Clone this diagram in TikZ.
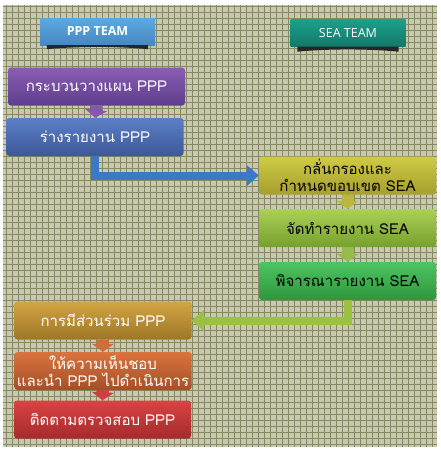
\documentclass[tikz,border=0pt]{standalone}
\usepackage{fontspec}
\newfontfamily\thaifont[Script=Thai]{Loma}
\newfontfamily\teamfont{Open Sans}
\usetikzlibrary{arrows.meta}

\definecolor{gridbg}{HTML}{C8C8B2}
\definecolor{gridln}{HTML}{858A60}
\definecolor{pppT}{HTML}{5CA9E0}   \definecolor{pppB}{HTML}{4787C2}
\definecolor{seaT}{HTML}{1BA08C}   \definecolor{seaB}{HTML}{137868}
\definecolor{planT}{HTML}{8A5DB3}  \definecolor{planB}{HTML}{5E3D8C}
\definecolor{draftT}{HTML}{5B7FC6} \definecolor{draftB}{HTML}{3D5897}
\definecolor{scopeT}{HTML}{CFCB45} \definecolor{scopeB}{HTML}{A69E2E}
\definecolor{reprtT}{HTML}{AAD055} \definecolor{reprtB}{HTML}{76A02E}
\definecolor{reviewT}{HTML}{4DC462}\definecolor{reviewB}{HTML}{2F963B}
\definecolor{partT}{HTML}{D2A443}  \definecolor{partB}{HTML}{9E7627}
\definecolor{apprvT}{HTML}{D9743E} \definecolor{apprvB}{HTML}{A54F27}
\definecolor{monitT}{HTML}{D94343} \definecolor{monitB}{HTML}{A52B2C}
\definecolor{arrowblue}{HTML}{3C78C8}
\definecolor{arrowgreen}{HTML}{9CC040}

\tikzset{
  flowbox/.style 2 args={rectangle, rounded corners=3pt, minimum width=177pt,
    minimum height=38pt, inner sep=1pt, align=center, top color=#1, bottom color=#2,
    font=\thaifont\fontsize{15}{17}\selectfont, text=white},
  teambox/.style 2 args={rectangle, minimum width=115pt, minimum height=27pt,
    top color=#1, bottom color=#2, text=white, font=\teamfont\fontsize{12.5}{14}\selectfont},
  linkarrow/.style={line width=12pt, -{Triangle[width=22pt,length=8pt]}},
  bigarrow/.style={line width=8pt, -{Triangle[width=20pt,length=12pt]}}
}

\begin{document}
\begin{tikzpicture}[x=1pt,y=1pt]
    \useasboundingbox (0,0) rectangle (440,-450);
    \fill[white] (0,0) rectangle (440,-450);
    \fill[gridbg] (3,-5) rectangle (437,-447);
    \draw[gridln, line width=0.6pt, step=6pt] (3,-5) grid (437,-447);

    % team labels
    \node[teambox={pppT}{pppB}] (tmppp) at (97.5,-31.5) {\bfseries PPP TEAM};
    \node[teambox={seaT}{seaB}] (tmsea) at (348,-33) {SEA TEAM};
    \fill[black!85] ([xshift=7pt]tmppp.south west) -- ++(0,-4) .. controls +(30,3) and +(-30,3) .. ([xshift=-7pt,yshift=-4pt]tmppp.south east) -- ([xshift=-7pt]tmppp.south east) -- cycle;
    \fill[black!85] ([xshift=7pt]tmsea.south west) -- ++(0,-5) .. controls +(30,3) and +(-30,3) .. ([xshift=-7pt,yshift=-5pt]tmsea.south east) -- ([xshift=-7pt]tmsea.south east) -- cycle;

    % PPP side
    \node[flowbox={planT}{planB}] (plan) at (96.5,-86.5) {กระบวนวางแผน PPP};
    \node[flowbox={draftT}{draftB}] (draft) at (95,-137) {ร่างรายงาน PPP};

    % SEA side
    \node[flowbox={scopeT}{scopeB}, text=black] (scope) at (347.5,-175.5) {กลั่นกรองและ\\กำหนดขอบเขต SEA};
    \node[flowbox={reprtT}{reprtB}, text=black] (report) at (347.5,-228) {จัดทำรายงาน SEA};
    \node[flowbox={reviewT}{reviewB}, text=black] (review) at (347.5,-281) {พิจารณารายงาน SEA};

    % back to PPP
    \node[flowbox={partT}{partB}] (part) at (103,-320.5) {การมีส่วนร่วม PPP};
    \node[flowbox={apprvT}{apprvB}] (apprv) at (103,-371) {ให้ความเห็นชอบ\\และนำ PPP ไปดำเนินการ};
    \node[flowbox={monitT}{monitB}] (monit) at (102.5,-419.5) {ติดตามตรวจสอบ PPP};

    % small arrows
    \draw[linkarrow, planT!85!planB] (plan.south) -- (draft.north);
    \draw[linkarrow, scopeT!90!black] (scope.south) -- (report.north);
    \draw[linkarrow, reprtT!90!black] (report.south) -- (review.north);
    \draw[linkarrow, apprvT!95!black] (part.south) -- (apprv.north);
    \draw[linkarrow, monitT!95!black] (apprv.south) -- (monit.north);

    % big arrows
    \draw[bigarrow, arrowblue] (draft.south) |- (scope.west);
    \draw[bigarrow, arrowgreen] (review.south) |- (part.east);
\end{tikzpicture}
\end{document}
